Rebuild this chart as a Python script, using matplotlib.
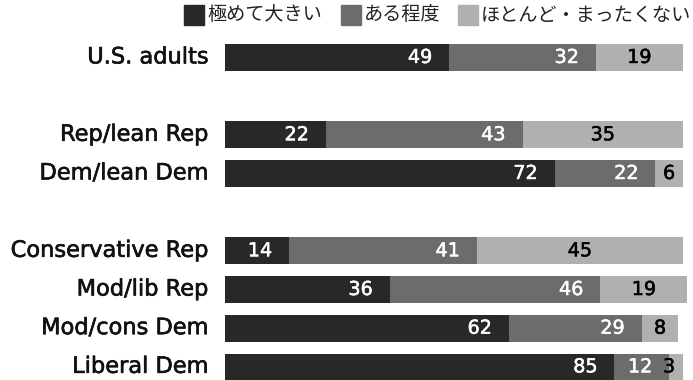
import numpy as np
import matplotlib
matplotlib.use("Agg")
import matplotlib.pyplot as plt
import matplotlib.patheffects as pe
from matplotlib.patches import Rectangle

groups = ["U.S. adults", "Rep/lean Rep", "Dem/lean Dem",
          "Conservative Rep", "Mod/lib Rep", "Mod/cons Dem", "Liberal Dem"]
slots = [0, 2, 3, 5, 6, 7, 8]   # blank rows between the blocks
very_large = [49, 22, 72, 14, 36, 62, 85]
somewhat = [32, 43, 22, 41, 46, 29, 12]
little_none = [19, 35, 6, 45, 19, 8, 3]
legend_labels = ["極めて大きい", "ある程度", "ほとんど・まったくない"]

colors = ["#282828", "#6c6c6c", "#b0b0b0"]
W, H = 693, 380

fig = plt.figure(figsize=(W / 100, H / 100), dpi=100)
ax = fig.add_axes([225 / W, 0, 467 / W, 350 / H])

y = np.array(slots)
v1 = np.array(very_large)
v2 = np.array(somewhat)
v3 = np.array(little_none)

ax.barh(y, v1, height=0.69, color=colors[0])
ax.barh(y, v2, left=v1, height=0.69, color=colors[1])
ax.barh(y, v3, left=v1 + v2, height=0.69, color=colors[2])

def heavier(col, lw):
    # a thin outline in the text colour makes the regular face a bit bolder
    return [pe.withStroke(linewidth=lw, foreground=col)]

pad = 3.7
for yi, a, b, c in zip(y, v1, v2, v3):
    for x, s, col, ha in [(a - pad, a, "white", "right"),
                          (a + b - pad, b, "white", "right"),
                          (min(a + b + c / 2, 97), c, "black", "center")]:
        ax.text(x, yi, str(s), color=col, ha=ha, va="center", fontsize=13.8,
                family="DejaVu Sans", path_effects=heavier(col, 0.35))

for yi, g in zip(y, groups):
    ax.text(-3.6, yi, g, ha="right", va="center", fontsize=16.2,
            family="DejaVu Sans", color="#111111",
            path_effects=heavier("#111111", 0.45))

ax.set_xlim(0, 102)
ax.set_ylim(8.34, -0.71)
ax.axis("off")

# legend drawn by hand across the top
box_x = [184, 341, 458]
for bx, col, txt in zip(box_x, colors, legend_labels):
    fig.patches.append(Rectangle((bx / W, 1 - 25 / H), 20 / W, 20 / H,
                                 transform=fig.transFigure, color=col))
    fig.text((bx + 23) / W, 1 - 15 / H, txt, ha="left", va="center",
             fontsize=13.8, family=["Noto Sans CJK JP", "DejaVu Sans"],
             color="#222222")

fig.savefig("out.png", dpi=100)
